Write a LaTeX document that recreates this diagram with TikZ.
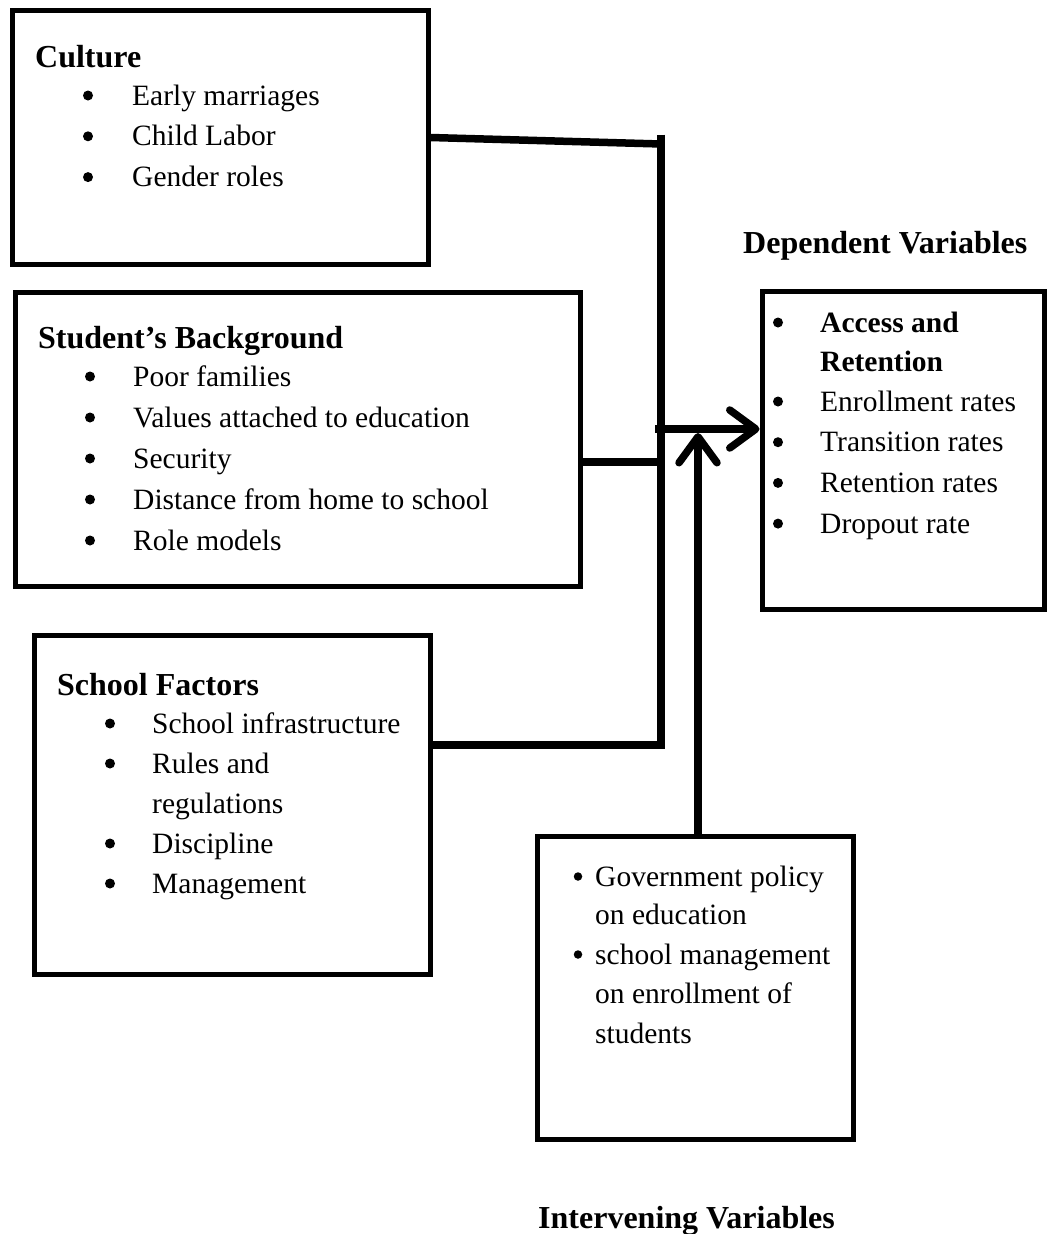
\documentclass[tikz,border=0pt]{standalone}
\usepackage{fontspec}
\setmainfont{Liberation Serif}
\usetikzlibrary{arrows.meta}
\begin{document}
\begin{tikzpicture}[x=1pt,y=-1pt,
  box/.style={draw, line width=5pt, inner sep=0pt, rectangle},
  conn/.style={line width=7.5pt},
  arr/.style={conn, -{Straight Barb[length=26pt,width=38pt,round]}},
  body/.style={anchor=base west, inner sep=0pt, font=\fontsize{29.5}{40}\selectfont},
  boldbody/.style={body, font=\fontsize{29.5}{40}\selectfont\bfseries},
  head/.style={anchor=base west, inner sep=0pt, font=\fontsize{32}{40}\selectfont\bfseries},
  bul/.style={circle, fill=black, draw=none, inner sep=0pt, minimum size=10pt, yshift=9.5pt},
  sbul/.style={bul, minimum size=8.5pt}]
\useasboundingbox (0,0) rectangle (1047,1234);

% boxes
\node[box, minimum width=416pt, minimum height=254pt] (culture) at (220,137.5) {};
\node[box, minimum width=565pt, minimum height=294pt] (student) at (297.5,439) {};
\node[box, minimum width=396pt, minimum height=339pt] (school) at (232,805) {};
\node[box, minimum width=282pt, minimum height=318pt] (dep) at (903,450) {};
\node[box, minimum width=316pt, minimum height=303pt] (interv) at (695,987.5) {};

% Culture
\node[head] (ctitle) at (35,67) {Culture};
\foreach \t [count=\i] in {Early marriages, Child Labor, Gender roles} {
  \pgfmathsetmacro\yy{105+40.8*(\i-1)}
  \node[bul] (cb\i) at (88,\yy) {};
  \node[body] (ct\i) at (132,\yy) {\t};
}

% Student's Background
\node[head] (stitle) at (38,348) {Student’s Background};
\foreach \t [count=\i] in {Poor families, Values attached to education, Security, Distance from home to school, Role models} {
  \pgfmathsetmacro\yy{386+41*(\i-1)}
  \node[bul] (sb\i) at (90,\yy) {};
  \node[body] (st\i) at (133,\yy) {\t};
}

% School Factors
\node[head] (ftitle) at (57,695) {School Factors};
\node[bul] (fb1) at (110,733) {};
\node[body] (ft1) at (152,733) {School infrastructure};
\node[bul] (fb2) at (110,773) {};
\node[body] (ft2) at (152,773) {Rules and};
\node[body] (ft2b) at (152,813) {regulations};
\node[bul] (fb3) at (110,853) {};
\node[body] (ft3) at (152,853) {Discipline};
\node[bul] (fb4) at (110,893) {};
\node[body] (ft4) at (152,893) {Management};

% Dependent Variables
\node[head] (dtitle) at (743,253) {Dependent Variables};
\node[bul] (db1) at (778,332) {};
\node[boldbody] (dt1) at (820,332) {Access and};
\node[boldbody] (dt1b) at (820,371) {Retention};
\foreach \t [count=\i from 2] in {Enrollment rates, Transition rates, Retention rates, Dropout rate} {
  \pgfmathsetmacro\yy{411+40.7*(\i-2)}
  \node[bul] (db\i) at (778,\yy) {};
  \node[body] (dt\i) at (820,\yy) {\t};
}

% Intervening Variables
\node[sbul] (ib1) at (578,886) {};
\node[body] (it1) at (595,886) {Government policy};
\node[body] (it1b) at (595,924) {on education};
\node[sbul] (ib2) at (578,964) {};
\node[body] (it2) at (595,964) {school management};
\node[body] (it2b) at (595,1003) {on enrollment of};
\node[body] (it2c) at (595,1043) {students};
\node[head] (ititle) at (538,1228) {Intervening Variables};

% connectors
\coordinate (vtop) at (661,134.5);
\coordinate (cjoin) at (661,144);
\coordinate (sjoin) at (661,462);
\coordinate (fjoin) at (661,745);
\coordinate (vbot) at (661,748.5);
\coordinate (hstart) at (655,429);
\coordinate (uptip) at (698,433);

\draw[conn] (vtop) -- (vbot);
\draw[conn] (culture.east) -- (cjoin);
\draw[conn] (student.east |- sjoin) -- (sjoin);
\draw[conn] (school.east |- fjoin) -- (fjoin);
\draw[arr] (hstart) -- (dep.west |- hstart);
\draw[arr] (uptip |- interv.north) -- (uptip);
\end{tikzpicture}
\end{document}
